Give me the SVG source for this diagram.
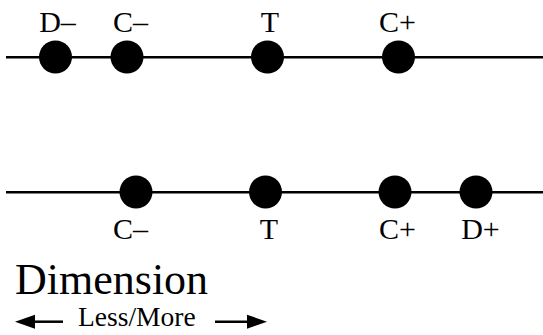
<svg xmlns="http://www.w3.org/2000/svg" width="543" height="335" viewBox="0 0 543 335">
<style>
.ln{stroke:#000;stroke-width:2.5;fill:none}
.dot{fill:#000}
.t{font-family:'Liberation Serif',serif;fill:#000}
.lb{font-size:30px;text-anchor:middle}
</style>
<rect width="543" height="335" fill="#fff"/>
<g id="connectors">
<line class="ln" x1="6" y1="57.3" x2="543" y2="57.3"/>
<line class="ln" x1="6" y1="192.3" x2="543" y2="192.3"/>
<line class="ln" x1="33" y1="321.7" x2="63" y2="321.7"/>
<polygon class="dot" points="15,321.7 35,314.7 35,328.7"/>
<line class="ln" x1="215" y1="321.7" x2="249" y2="321.7"/>
<polygon class="dot" points="267,321.7 247,314.7 247,328.7"/>
</g>
<g id="top-Dminus"><circle class="dot" cx="55.5" cy="57" r="16.5"/><text class="t lb" x="57.5" y="32">D–</text></g>
<g id="top-Cminus"><circle class="dot" cx="127" cy="57" r="16.5"/><text class="t lb" x="130.5" y="32">C–</text></g>
<g id="top-T"><circle class="dot" cx="267.5" cy="57" r="16.5"/><text class="t lb" x="270" y="32">T</text></g>
<g id="top-Cplus"><circle class="dot" cx="398.5" cy="57" r="16.5"/><text class="t lb" x="397.5" y="32">C+</text></g>
<g id="bot-Cminus"><circle class="dot" cx="136" cy="192" r="16.5"/><text class="t lb" x="130.5" y="239">C–</text></g>
<g id="bot-T"><circle class="dot" cx="265.5" cy="192" r="16.5"/><text class="t lb" x="269" y="239">T</text></g>
<g id="bot-Cplus"><circle class="dot" cx="395" cy="192" r="16.5"/><text class="t lb" x="397.5" y="239">C+</text></g>
<g id="bot-Dplus"><circle class="dot" cx="476" cy="192" r="16.5"/><text class="t lb" x="480.5" y="239">D+</text></g>
<text class="t" x="15" y="294" font-size="44">Dimension</text>
<text class="t" x="78" y="326" font-size="27.5">Less/More</text>
</svg>
